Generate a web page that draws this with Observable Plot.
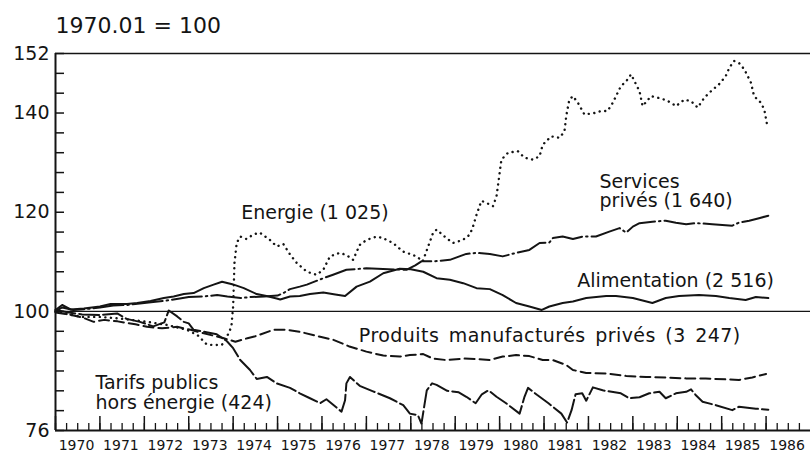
<!DOCTYPE html>
<html><head><meta charset="utf-8">
<script src="https://cdn.jsdelivr.net/npm/d3@7"></script>
<script src="https://cdn.jsdelivr.net/npm/@observablehq/plot@0.6"></script>
<style>
body{margin:0;background:#fff;}
#chart svg{display:block;}
</style></head><body><div id="chart"></div>
<script>
const title = "1970.01 = 100";
const yTickLabels = [76, 100, 120, 140, 152];
const yMinorTicks = d3.range(76, 153, 4);
const yearTicks = d3.range(1970, 1987);
const quarterTicks = d3.range(1970, 1987, 0.25);

const energie = [[1970.0,100.0],[1970.3,99.4],[1970.6,98.9],[1971.0,98.9],[1971.4,98.6],[1971.7,98.3],[1972.07,97.9],[1972.5,97.3],[1972.96,96.3],[1973.2,95.2],[1973.4,93.4],[1973.55,93.2],[1973.75,93.3],[1973.86,94.9],[1973.96,96.9],[1974.0,101.0],[1974.03,109.8],[1974.08,113.8],[1974.16,115.1],[1974.3,114.6],[1974.45,115.5],[1974.6,115.9],[1974.83,114.4],[1974.98,113.1],[1975.13,113.6],[1975.28,111.5],[1975.43,109.8],[1975.66,108.0],[1975.88,107.4],[1976.03,108.4],[1976.18,111.1],[1976.4,111.8],[1976.55,111.4],[1976.7,110.4],[1976.85,113.4],[1977.0,114.4],[1977.23,115.1],[1977.37,114.8],[1977.6,113.8],[1977.82,112.1],[1978.13,111.1],[1978.27,110.1],[1978.5,115.8],[1978.58,116.5],[1978.8,114.8],[1978.95,113.8],[1979.17,114.4],[1979.33,115.5],[1979.4,117.1],[1979.48,119.5],[1979.59,122.3],[1979.7,121.9],[1979.85,121.2],[1979.93,123.2],[1980.0,127.9],[1980.04,130.6],[1980.19,132.0],[1980.41,132.3],[1980.56,131.0],[1980.75,130.6],[1980.9,131.3],[1980.97,133.6],[1981.16,135.3],[1981.35,135.0],[1981.46,136.3],[1981.5,139.4],[1981.57,142.7],[1981.65,143.4],[1981.76,142.1],[1981.91,139.7],[1982.13,140.0],[1982.28,140.4],[1982.43,140.4],[1982.55,142.1],[1982.73,145.4],[1982.85,146.4],[1982.96,147.8],[1983.07,145.8],[1983.15,144.4],[1983.22,141.4],[1983.41,143.4],[1983.56,143.1],[1983.71,142.7],[1983.86,142.1],[1983.97,141.4],[1984.16,142.7],[1984.31,142.4],[1984.46,141.1],[1984.61,143.1],[1984.76,144.4],[1984.94,145.8],[1985.09,147.4],[1985.17,149.1],[1985.28,150.5],[1985.39,150.1],[1985.51,148.8],[1985.66,146.1],[1985.73,143.4],[1985.88,142.1],[1985.96,140.7],[1986.03,137.3]];

const services = [[1970.0,100.0],[1970.15,100.8],[1970.4,100.3],[1970.7,100.5],[1971.0,100.8],[1971.3,101.2],[1971.6,101.3],[1971.9,101.6],[1972.2,101.9],[1972.5,102.2],[1972.8,102.6],[1973.0,102.9],[1973.3,103.0],[1973.64,103.3],[1973.87,103.0],[1974.17,102.7],[1974.39,102.9],[1974.7,103.0],[1975.0,103.2],[1975.13,103.7],[1975.28,104.5],[1975.5,105.0],[1975.66,105.4],[1976.03,106.7],[1976.25,107.4],[1976.55,108.4],[1977.0,108.7],[1977.5,108.5],[1977.9,108.4],[1978.1,109.3],[1978.24,110.1],[1978.5,110.1],[1978.88,110.4],[1979.25,111.6],[1979.48,111.8],[1979.78,111.6],[1980.07,111.1],[1980.37,111.8],[1980.67,112.4],[1980.9,113.8],[1981.12,113.9],[1981.2,114.8],[1981.42,115.1],[1981.65,114.6],[1981.87,115.1],[1982.17,115.1],[1982.47,116.1],[1982.7,116.8],[1982.85,115.9],[1983.0,117.1],[1983.15,117.8],[1983.44,118.1],[1983.74,118.3],[1983.97,117.9],[1984.2,117.6],[1984.42,117.8],[1984.79,117.6],[1985.24,117.3],[1985.39,117.9],[1985.62,118.3],[1985.84,118.8],[1986.05,119.3]];

const alimentation = [[1970.0,100.3],[1970.15,101.3],[1970.34,100.4],[1970.64,100.6],[1971.0,101.0],[1971.24,101.5],[1971.61,101.5],[1971.84,101.7],[1972.14,102.1],[1972.44,102.7],[1972.66,103.0],[1972.89,103.5],[1973.11,103.7],[1973.34,104.7],[1973.56,105.4],[1973.75,106.0],[1973.98,105.5],[1974.24,104.7],[1974.53,103.5],[1974.75,103.1],[1974.98,102.6],[1975.06,102.4],[1975.28,103.0],[1975.5,103.1],[1975.73,103.5],[1976.03,103.8],[1976.3,103.4],[1976.52,103.1],[1976.78,105.0],[1977.08,106.0],[1977.38,107.7],[1977.75,108.6],[1978.0,108.5],[1978.28,108.0],[1978.58,106.7],[1978.88,106.4],[1979.18,105.7],[1979.48,104.7],[1979.78,104.5],[1980.07,103.3],[1980.37,101.7],[1980.67,101.0],[1980.95,100.3],[1981.12,101.0],[1981.42,101.7],[1981.65,102.0],[1981.95,102.7],[1982.4,103.1],[1982.62,103.1],[1983.0,102.7],[1983.44,101.7],[1983.74,102.7],[1984.04,103.1],[1984.49,103.3],[1984.87,103.1],[1985.17,102.7],[1985.54,102.3],[1985.77,102.9],[1986.05,102.7]];

const produits = [[1970.0,99.8],[1970.3,99.4],[1970.6,98.8],[1970.86,97.9],[1971.1,98.3],[1971.4,98.0],[1971.8,97.4],[1972.06,96.9],[1972.4,96.6],[1972.74,96.9],[1973.04,96.3],[1973.34,95.6],[1973.79,94.6],[1974.05,93.9],[1974.32,94.6],[1974.5,95.0],[1974.91,96.3],[1975.2,96.3],[1975.5,95.9],[1975.96,94.9],[1976.25,94.3],[1976.6,93.0],[1977.0,91.9],[1977.38,91.1],[1977.75,90.9],[1977.98,91.2],[1978.28,91.4],[1978.5,90.5],[1978.8,90.2],[1979.18,90.5],[1979.48,90.4],[1979.78,90.2],[1980.07,90.9],[1980.37,91.2],[1980.67,91.0],[1980.97,90.2],[1981.2,90.2],[1981.5,89.2],[1981.65,88.2],[1981.95,87.6],[1982.4,87.5],[1982.85,87.0],[1983.3,86.8],[1983.74,86.7],[1984.2,86.5],[1984.64,86.5],[1985.1,86.3],[1985.39,86.2],[1985.69,86.7],[1986.0,87.4]];

const tarifs = [[1970.0,100.3],[1970.3,99.8],[1970.6,99.4],[1971.0,99.3],[1971.39,99.6],[1971.6,98.5],[1971.9,97.9],[1972.2,97.0],[1972.45,97.8],[1972.55,100.2],[1972.74,99.0],[1972.89,97.9],[1973.0,97.6],[1973.11,96.3],[1973.4,95.8],[1973.63,95.4],[1973.86,94.0],[1974.0,92.6],[1974.16,90.2],[1974.38,88.2],[1974.53,86.4],[1974.76,86.8],[1974.98,85.5],[1975.28,84.6],[1975.5,83.5],[1975.73,82.5],[1975.96,81.5],[1976.1,82.3],[1976.44,79.8],[1976.52,82.1],[1976.55,85.5],[1976.63,86.8],[1976.85,85.0],[1977.15,83.9],[1977.53,82.5],[1977.83,81.1],[1977.98,79.4],[1978.16,79.1],[1978.24,77.4],[1978.36,84.1],[1978.48,85.5],[1978.58,85.2],[1978.82,84.0],[1979.08,83.7],[1979.25,82.8],[1979.46,81.5],[1979.6,83.3],[1979.75,84.1],[1979.93,82.8],[1980.13,81.6],[1980.45,79.4],[1980.56,82.8],[1980.64,84.6],[1980.84,83.2],[1981.1,81.5],[1981.39,79.4],[1981.52,77.6],[1981.62,80.1],[1981.71,83.3],[1981.86,83.5],[1981.95,82.0],[1982.1,84.7],[1982.32,84.1],[1982.73,83.5],[1982.92,82.5],[1983.15,82.7],[1983.37,83.5],[1983.6,83.8],[1983.74,82.5],[1983.97,83.5],[1984.2,83.8],[1984.31,84.3],[1984.42,83.1],[1984.57,81.8],[1984.87,81.1],[1985.24,80.1],[1985.39,80.8],[1985.77,80.4],[1986.05,80.2]];

const labelText = ["Energie (1 025)", "Services\nprivés (1 640)", "Alimentation (2 516)", "Produits manufacturés privés (3 247)", "Tarifs publics\nhors énergie (424)"];
const labelX = [1974.18, 1982.25, 1981.75, 1976.83, 1970.90];
const labelY = [118.64, 120.96, 104.95, 93.84, 80.33];

const ink = "#141414";
const pts = a => a.map(([t, v]) => ({t, v}));
const labels = labelText.map((text, i) => ({text, x: labelX[i], y: labelY[i]}));
const base = {x: "t", y: "v", stroke: ink, strokeWidth: 2, strokeLinejoin: "round"};

const chart = Plot.plot({
  width: 810, height: 454,
  marginLeft: 55, marginRight: 0, marginTop: 53, marginBottom: 24,
  style: {fontFamily: "DejaVu Sans", background: "#fff", color: ink},
  x: {domain: [1970, 1987]},
  y: {domain: [76, 152]},
  marks: [
    Plot.ruleY([100], {stroke: ink, strokeWidth: 1.3}),
    Plot.ruleY([152], {stroke: ink, strokeWidth: 1.4}),
    Plot.ruleY([76], {stroke: ink, strokeWidth: 2}),
    Plot.ruleX([1970], {stroke: ink, strokeWidth: 2}),
    Plot.tickY(yMinorTicks, {y: d => d, insetRight: 746, stroke: ink, strokeWidth: 1.5}),
    Plot.tickX(quarterTicks, {x: d => d, insetTop: 370, stroke: ink, strokeWidth: 1.3}),
    Plot.tickX(yearTicks, {x: d => d, insetTop: 363, stroke: ink, strokeWidth: 1.5}),
    Plot.axisY(yTickLabels, {tickSize: 0, tickPadding: 6, fontSize: 19, fill: ink}),
    Plot.axisX(yearTicks, {tickSize: 0, tickPadding: 10, dx: 21, fontSize: 14, fill: ink, tickFormat: d => String(d)}),
    Plot.line(pts(energie), {...base, strokeWidth: 2.4, strokeDasharray: "0.1 5.5", strokeLinecap: "round"}),
    Plot.line(pts(services), {...base, strokeDasharray: "30 4 1.5 4"}),
    Plot.line(pts(alimentation), base),
    Plot.line(pts(produits), {...base, strokeDasharray: "10 5"}),
    Plot.line(pts(tarifs), {...base, strokeDasharray: "20 4"}),
    Plot.text(labels, {x: "x", y: "y", text: "text", textAnchor: "start", lineAnchor: "bottom", lineHeight: 1.05, fontSize: 19, fill: ink}),
    Plot.text([title], {frameAnchor: "top-left", textAnchor: "start", lineAnchor: "bottom", dy: -21, fontSize: 22, fill: ink})
  ]
});
d3.select(chart).selectAll("text")
  .filter(function() { return this.textContent.startsWith("Produits"); })
  .style("letter-spacing", "0.45px").style("word-spacing", "3px");
document.getElementById("chart").append(chart);
</script></body></html>
